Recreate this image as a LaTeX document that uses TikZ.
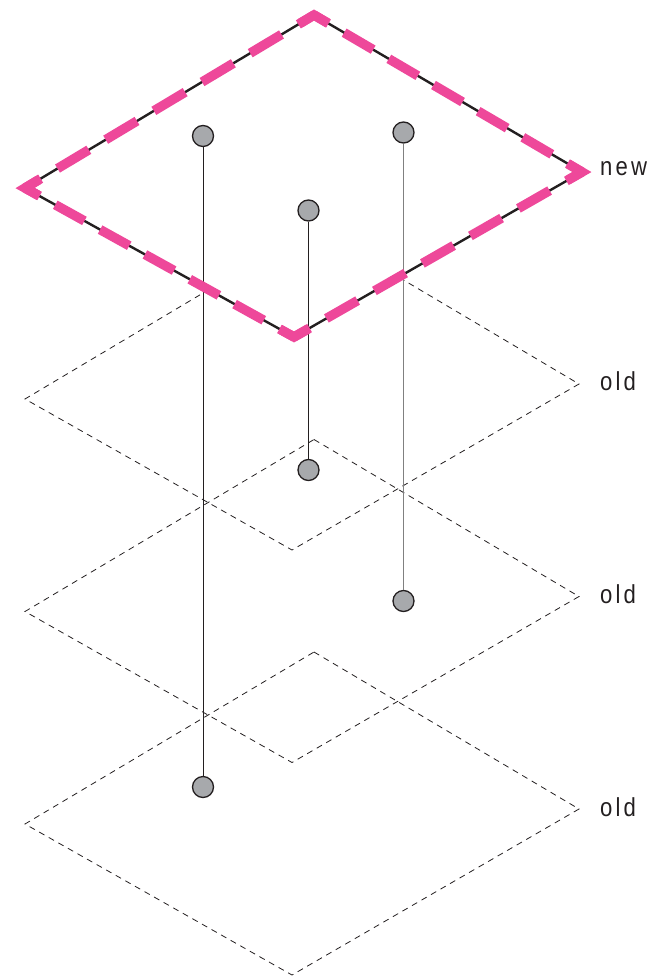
\documentclass[tikz,border=0pt]{standalone}
\usepackage{fontspec}
\setmainfont{Liberation Sans}
\newfontfamily\lblfont[FakeStretch=0.85,LetterSpace=12]{Liberation Sans}
\usetikzlibrary{calc}
\definecolor{pinkc}{RGB}{238,72,154}
\definecolor{ink}{RGB}{35,31,32}
\definecolor{dotgray}{RGB}{167,169,172}
\definecolor{stemgray}{RGB}{128,128,128}
\begin{document}
\begin{tikzpicture}[x=1pt,y=-1pt,
  olddiamond/.style={draw=ink, line width=0.8pt, dash pattern=on 6pt off 5pt},
  newline/.style={draw=ink, fill=white, line width=2.4pt, line join=miter},
  pinkdash/.style={draw=pinkc, line width=9.5pt, line cap=butt},
  pinkcorner/.style={draw=pinkc, line width=9.5pt, line join=miter, line cap=butt},
  dot/.style={circle, draw=ink, line width=1.3pt, fill=dotgray, minimum size=21pt, inner sep=0pt},
  stem/.style={draw=ink, line width=0.9pt},
  graystem/.style={draw=stemgray, line width=1.1pt},
  lbl/.style={font=\lblfont\fontsize{26}{30}\selectfont, text=ink, inner sep=0pt, anchor=base west}]
\useasboundingbox (0,0) rectangle (649,979);

% old layers
\foreach \oy in {0,212.5,425}{
  \draw[olddiamond] (314,227+\oy) -- (579,384+\oy) -- (292,550+\oy) -- (25,399+\oy) -- cycle;
}

% new layer vertices (opaque plane)
\coordinate (nT) at (314,15);
\coordinate (nR) at (582,172);
\coordinate (nB) at (294,337);
\coordinate (nL) at (25,188);
\draw[newline] (nT) -- (nR) -- (nB) -- (nL) -- cycle;

% dots
\node[dot] (a1) at (203,136) {};
\node[dot] (a2) at (203,787) {};
\node[dot] (b1) at (308.5,210.5) {};
\node[dot] (b2) at (308.5,470) {};
\node[dot] (c1) at (403.5,132.5) {};
\node[dot] (c2) at (403.5,601) {};
\draw[stem] (a1) -- (a2);
\draw[stem] (b1) -- (b2);
\draw[graystem] (c1) -- (c2);

% pink dashed overlay
\foreach \ax/\ay/\bx/\by in {314/15/582/172, 582/172/294/337, 294/337/25/188, 25/188/314/15}{
  \pgfmathsetmacro\len{veclen(\bx-\ax,\by-\ay)}
  \pgfmathsetmacro\don{0.65*\len/6}
  \pgfmathsetmacro\doff{0.35*\len/6}
  \pgfmathsetmacro\ph{\don/2}
  \draw[pinkdash, dash pattern=on \don pt off \doff pt, dash phase=\ph pt] (\ax,\ay) -- (\bx,\by);
}
\foreach \v/\p/\n in {nT/nL/nR, nR/nT/nB, nB/nR/nL, nL/nB/nT}{
  \draw[pinkcorner] ($(\v)!16pt!(\p)$) -- (\v) -- ($(\v)!16pt!(\n)$);
}

% labels
\node[lbl] (lnew) at (600,175) {new};
\node[lbl] (lold1) at (600,390) {old};
\node[lbl] (lold2) at (600,603) {old};
\node[lbl] (lold3) at (600,816) {old};
\end{tikzpicture}
\end{document}
